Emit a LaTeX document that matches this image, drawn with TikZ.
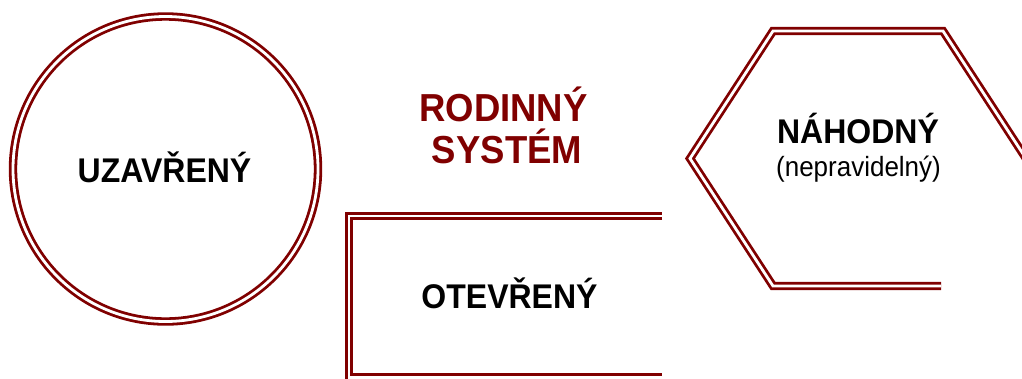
\documentclass[tikz,border=0pt]{standalone}
\usepackage{fontspec}
\setmainfont{Liberation Sans}
\definecolor{maroonline}{RGB}{128,0,0}
\newcommand{\tallt}[1]{\scalebox{1}[1.07]{#1}}
\begin{document}
\begin{tikzpicture}[x=1pt,y=-1pt,
  dbl/.style={draw=maroonline, line width=2.8pt, double=white, double distance=2.8pt, line join=miter},
  lbl/.style={font=\bfseries\fontsize{32}{38}\selectfont, text=black, inner sep=0pt, anchor=base},
  sublbl/.style={font=\fontsize{26}{31}\selectfont, text=black, inner sep=0pt, anchor=base},
  titlelbl/.style={font=\bfseries\fontsize{36.5}{42}\selectfont, text=maroonline, inner sep=0pt, anchor=base}]
\useasboundingbox (0,0) rectangle (1022,378);
\fill[white] (0,0) rectangle (1022,378);
\clip (0,0) rectangle (1022,378);
% closed system circle
\node[dbl, circle, minimum size=305pt, inner sep=0pt] (closed) at (165.5,169) {};
\node[lbl] (closedtxt) at (164.5,182) {\tallt{UZAVŘENÝ}};
% open system rectangle (open on the right)
\coordinate (rtop) at (662,216);
\coordinate (rbot) at (662,377.5);
\draw[dbl] (rtop) -- (349,216) -- (349,377.5) -- (rbot);
\node[lbl] (opentxt) at (509.5,308) {\tallt{OTEVŘENÝ}};
% random system hexagon (cut on the right)
\coordinate (hstart) at (941,286);
\coordinate (hend) at (1026,158.5);
\draw[dbl] (hstart) -- (773,286) -- (690,158.5) -- (773,31) -- (943,31) -- (hend);
\node[lbl] (randtxt) at (858,143) {\tallt{NÁHODNÝ}};
\node[sublbl] (randsub) at (858.5,176) {\tallt{(nepravidelný)}};
% title
\node[titlelbl] (title1) at (503.5,121) {\tallt{RODINNÝ}};
\node[titlelbl] (title2) at (507,163) {\tallt{SYSTÉM}};
\end{tikzpicture}
\end{document}
